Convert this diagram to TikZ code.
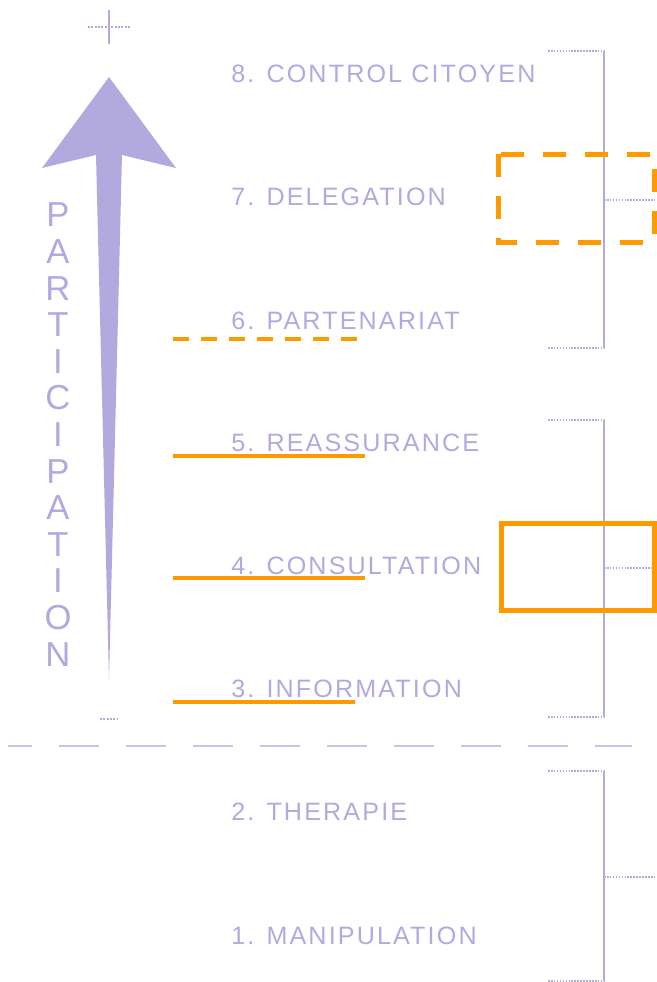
\documentclass[tikz,border=0pt]{standalone}
\usepackage{fontspec}
\setmainfont{Liberation Sans}
\definecolor{pale}{RGB}{178,170,222}
\definecolor{orng}{RGB}{255,153,0}
\begin{document}
\begin{tikzpicture}[x=0.75pt,y=-0.75pt,
  lbl/.style={anchor=west, inner sep=0pt, text=pale,
    font=\fontsize{18.85}{20}\selectfont\addfontfeatures{LetterSpace=8.5}},
  vlet/.style={inner sep=0pt, text=pale, font=\fontsize{26}{28}\selectfont},
  bar/.style={draw=orng, line width=3pt},
  dashbar/.style={draw=orng, line width=3pt, dash pattern=on 12pt off 9pt},
  obox/.style={draw=orng, line width=3.75pt},
  dashbox/.style={draw=orng, line width=3.75pt, dash pattern=on 17.25pt off 14.25pt},
  brk/.style={draw=pale, line width=1.2pt},
  brkend/.style={draw=pale, line width=1.2pt, dash pattern=on 1.2pt off 1pt},
  sep/.style={draw=pale!70, line width=0.9pt, dash pattern=on 30pt off 20.25pt, dash phase=12pt}]
\useasboundingbox (0,0) rectangle (657,982);

% plus and minus signs
\coordinate (plT) at (109,10); \coordinate (plB) at (109,44);
\coordinate (plL) at (88,27);  \coordinate (plR) at (131,27);
\draw[draw=pale, line width=2.2pt] (plT) -- (plB);
\draw[draw=pale, line width=1.5pt, dash pattern=on 1.5pt off 1pt] (plL) -- (plR);
\coordinate (miL) at (100,719); \coordinate (miR) at (118,719);
\draw[draw=pale, line width=2.2pt, dash pattern=on 1.5pt off 1pt] (miL) -- (miR);

% arrow
\coordinate (tip) at (109,77);
\coordinate (foot) at (109,680);
\fill[pale] (tip) -- (176,168) -- (122,155) -- (foot) -- (96,155) -- (42,168) -- cycle;

% vertical word
\foreach \l [count=\i] in {P,A,R,T,I,C,I,P,A,T,I,O,N}
  \node[vlet] (L\i) at (58,{215+36.6*(\i-1)}) {\l};

% labels
\node[lbl] (r8) at (231,74)  {8. CONTROL CITOYEN};
\node[lbl] (r7) at (231,197) {7. DELEGATION};
\node[lbl] (r6) at (231,321) {6. PARTENARIAT};
\node[lbl] (r5) at (231,443) {5. REASSURANCE};
\node[lbl] (r4) at (231,566) {4. CONSULTATION};
\node[lbl] (r3) at (231,689) {3. INFORMATION};
\node[lbl] (r2) at (231,812) {2. THERAPIE};
\node[lbl] (r1) at (231,936) {1. MANIPULATION};

% orange underlines
\coordinate (u6a) at (173,339); \coordinate (u6b) at (357,339);
\coordinate (u5a) at (173,456); \coordinate (u5b) at (365,456);
\coordinate (u4a) at (173,578); \coordinate (u4b) at (365,578);
\coordinate (u3a) at (173,702); \coordinate (u3b) at (355,702);
\draw[dashbar] (u6a) -- (u6b);
\draw[bar] (u5a) -- (u5b);
\draw[bar] (u4a) -- (u4b);
\draw[bar] (u3a) -- (u3b);

% separator
\coordinate (sepA) at (8,746); \coordinate (sepB) at (632,746);
\draw[sep] (sepA) -- (sepB);

% brackets
\foreach \n/\t/\m/\b in {A/51/200/348, B/420/568/717, C/771/877/981}{
  \coordinate (\n t0) at (548,\t); \coordinate (\n t1) at (604,\t);
  \coordinate (\n b0) at (548,\b); \coordinate (\n b1) at (604,\b);
  \coordinate (\n m0) at (604,\m); \coordinate (\n m1) at (657,\m);
  \draw[brk] (\n t1) -- (\n b1);
  \draw[brkend] (\n t0) -- (\n t1);
  \draw[brkend] (\n b0) -- (\n b1);
  \draw[brkend] (\n m0) -- (\n m1);
}

% orange boxes
\draw[dashbox] (498,154) rectangle (654,242);
\draw[obox] (501,523) rectangle (654,610);
\end{tikzpicture}
\end{document}
